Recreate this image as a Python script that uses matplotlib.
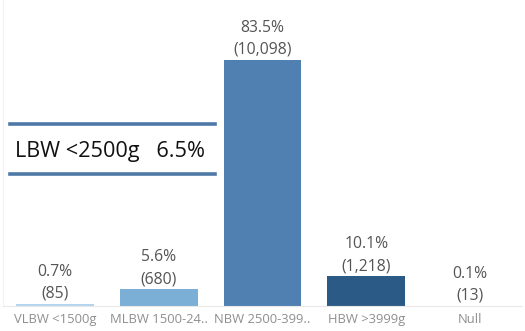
import matplotlib
matplotlib.use("Agg")
import matplotlib.pyplot as plt
from matplotlib.lines import Line2D

categories = ["VLBW <1500g", "MLBW 1500-24..", "NBW 2500-399..", "HBW >3999g", "Null"]
counts = [85, 680, 10098, 1218, 13]
percents = [0.7, 5.6, 83.5, 10.1, 0.1]
colors = ["#b4d4ee", "#7bafd5", "#4f80b1", "#2b5a86", "#1f3f60"]
lbw_label = "LBW <2500g"
lbw_pct = 6.5

plt.rcParams["font.family"] = ["Open Sans", "DejaVu Sans"]

W, H, DPI = 525, 331, 100
fig = plt.figure(figsize=(W / DPI, H / DPI), dpi=DPI)
ax = fig.add_axes([3 / W, (H - 306) / H, 519 / W, 306 / H])

x = list(range(len(categories)))
ax.bar(x, counts, width=0.75, color=colors)
ax.set_xlim(-0.5, len(categories) - 0.5)
ax.set_ylim(0, max(counts) * 306 / 246)

for xi, c, p in zip(x, counts, percents):
    ax.annotate(f"{p:.1f}%\n({c:,})", (xi, c), xytext=(0, 1.5), textcoords="offset points",
                ha="center", va="bottom", fontsize=11.3, color="#555555", linespacing=1.5)

ax.set_xticks(x)
ax.set_xticklabels(categories, fontsize=9.4, color="#8f8f8f")
ax.tick_params(axis="x", length=0, pad=5)
ax.set_yticks([])
for s in ["top", "right"]:
    ax.spines[s].set_visible(False)
ax.spines["left"].set_color("#f2f2f2")
ax.spines["bottom"].set_color("#e8e8e8")
ax.spines["left"].set_linewidth(0.8)
ax.spines["bottom"].set_linewidth(0.8)

# LBW summary box drawn in figure pixel coordinates
for yp in (124, 174):
    fig.add_artist(Line2D([10 / W, 215 / W], [1 - yp / H, 1 - yp / H],
                          transform=fig.transFigure, color="#4e79a7", linewidth=2.6))
fig.text(15 / W, 1 - 152 / H, f"{lbw_label}   {lbw_pct}%", ha="left", va="center",
         fontsize=15.6, color="#111111")

fig.savefig("out.png", dpi=DPI)
